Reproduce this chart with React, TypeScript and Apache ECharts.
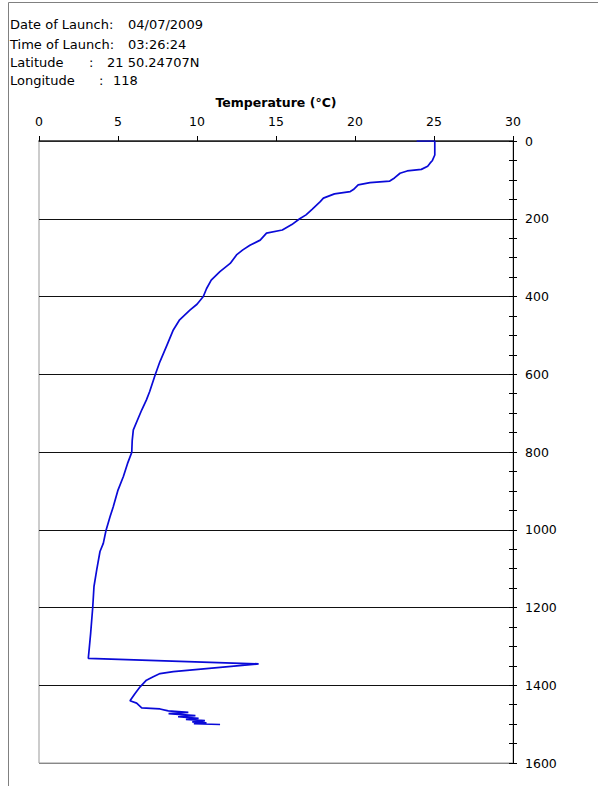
import React, { useEffect, useRef } from "react";
import * as echarts from "echarts";

const depths: number[] = [
  0, 0, 36, 50, 57, 65, 73, 77, 83, 95, 103, 107, 113, 125, 130, 136, 147, 156, 175, 190,
  200, 215, 229, 237, 255, 268, 280, 293, 315, 336, 358, 380, 400, 420, 435, 460, 486, 525,
  568, 602, 645, 666, 692, 743, 770, 801, 830, 863, 898, 941, 966, 1002, 1035, 1056, 1104,
  1146, 1200, 1266, 1305, 1331, 1345, 1365, 1370, 1378, 1387, 1404, 1421, 1440, 1446, 1458,
  1461, 1466, 1470, 1473, 1478, 1481, 1485, 1488, 1491, 1494, 1497, 1499, 1501,
];
const temps: number[] = [
  23.9, 25.05, 25.05, 24.9, 24.75, 24.6, 24.2, 23.3, 22.85, 22.5, 22.2, 20.95, 20.2, 19.9,
  19.7, 18.7, 18.0, 17.8, 17.3, 16.9, 16.5, 16.0, 15.4, 14.4, 14.0, 13.35, 12.9, 12.5, 12.1,
  11.45, 10.9, 10.6, 10.4, 10.0, 9.55, 8.9, 8.5, 8.1, 7.65, 7.35, 7.0, 6.8, 6.5, 5.97, 5.9,
  5.87, 5.6, 5.34, 5.0, 4.7, 4.5, 4.24, 4.07, 3.86, 3.65, 3.48, 3.4, 3.27, 3.18, 3.12, 13.9,
  8.5, 7.66, 7.23, 6.8, 6.4, 6.08, 5.76, 6.18, 6.5, 7.66, 8.18, 9.45, 8.2, 9.9, 8.8, 10.1,
  9.3, 10.5, 9.7, 10.6, 9.8, 11.46,
];

const headerLabels: string[] = ["Date of Launch:", "Time of Launch:", "Latitude", "Longitude"];
const headerValues: string[] = ["04/07/2009", "03:26:24", "21 50.24707N", "118"];

const FONT = "'DejaVu Sans', Verdana, sans-serif";

export default function App() {
  const ref = useRef<HTMLDivElement>(null);
  useEffect(() => {
    if (!ref.current) return;
    const chart = echarts.init(ref.current, undefined, { renderer: "svg" });
    const data = depths.map((d, i) => [temps[i], d]);
    const rowY = [24, 44, 62, 80];
    const txt = (x: number, y: number, s: string) => ({
      type: "text",
      x,
      y,
      style: { text: s, fill: "#000", font: `13px ${FONT}`, textVerticalAlign: "middle" },
    });
    const graphics: any[] = [
      { type: "line", shape: { x1: 8.5, y1: 2.5, x2: 598, y2: 2.5 }, style: { stroke: "#808080", lineWidth: 1 } },
      { type: "line", shape: { x1: 8.5, y1: 2.5, x2: 8.5, y2: 786 }, style: { stroke: "#808080", lineWidth: 1 } },
      txt(10, rowY[0], headerLabels[0]),
      txt(128, rowY[0], headerValues[0]),
      txt(10, rowY[1], headerLabels[1]),
      txt(128, rowY[1], headerValues[1]),
      txt(10, rowY[2], headerLabels[2]),
      txt(89, rowY[2], ":"),
      txt(107, rowY[2], headerValues[2]),
      txt(10, rowY[3], headerLabels[3]),
      txt(99, rowY[3], ":"),
      txt(113, rowY[3], headerValues[3]),
    ];
    const splitColors = ["#000", "#111", "#111", "#111", "#111", "#111", "#111", "#111", "#888"];
    const gridBox = { left: 39, right: 85, top: 141, bottom: 23 };
    chart.setOption({
      animation: false,
      backgroundColor: "#fff",
      grid: [
        {
          ...gridBox,
          show: true,
          borderColor: "#999",
          borderWidth: 1,
          backgroundColor: "transparent",
        },
        { ...gridBox, show: false },
      ],
      xAxis: [
        {
          type: "value",
          gridIndex: 0,
          position: "top",
          min: 0,
          max: 30,
          interval: 5,
          name: "Temperature (°C)",
          nameLocation: "middle",
          nameGap: 32,
          nameTextStyle: { fontFamily: FONT, fontSize: 12.5, fontWeight: "bold", color: "#000" },
          axisLine: { show: true, onZero: false, lineStyle: { color: "#333", width: 1.5 } },
          axisTick: { show: true, inside: false, length: 5, lineStyle: { color: "#000" } },
          axisLabel: { margin: 13, fontFamily: FONT, fontSize: 12.5, color: "#000" },
          splitLine: { show: false },
        },
        {
          type: "value",
          gridIndex: 1,
          position: "top",
          min: 0,
          max: 30,
          axisLine: { show: false, onZero: false },
          axisTick: { show: false },
          axisLabel: { show: false },
          splitLine: { show: false },
        },
      ],
      yAxis: [
        {
          type: "value",
          gridIndex: 0,
          position: "right",
          inverse: true,
          min: 0,
          max: 1600,
          interval: 200,
          axisLine: { show: true, onZero: false, lineStyle: { color: "#000", width: 1 } },
          axisTick: { show: true, inside: false, length: 4, lineStyle: { color: "#000" } },
          minorTick: { show: true, splitNumber: 4, length: 4, lineStyle: { color: "#000" } },
          axisLabel: {
            margin: 12,
            fontFamily: FONT,
            fontSize: 12.5,
            color: "#000",
            formatter: (v: number) => String(v),
          },
          splitLine: { show: true, lineStyle: { color: splitColors, width: 1 } },
        },
        {
          type: "value",
          gridIndex: 1,
          position: "right",
          inverse: true,
          min: 0,
          max: 1600,
          interval: 200,
          axisLine: { show: true, onZero: false, lineStyle: { color: "#000", width: 1 } },
          axisTick: { show: true, inside: true, length: 4, lineStyle: { color: "#000" } },
          minorTick: { show: true, splitNumber: 4, length: 4, lineStyle: { color: "#000" } },
          axisLabel: { show: false },
          splitLine: { show: false },
        },
      ],
      series: [
        {
          type: "line",
          data,
          xAxisIndex: 0,
          yAxisIndex: 0,
          showSymbol: false,
          symbol: "none",
          lineStyle: { color: "#0a0ad8", width: 1.7 },
        },
      ],
      graphic: graphics,
    });
    return () => chart.dispose();
  }, []);
  return (
    <div
      ref={ref}
      style={{ position: "fixed", left: 0, top: 0, width: 598, height: 786 }}
    />
  );
}
